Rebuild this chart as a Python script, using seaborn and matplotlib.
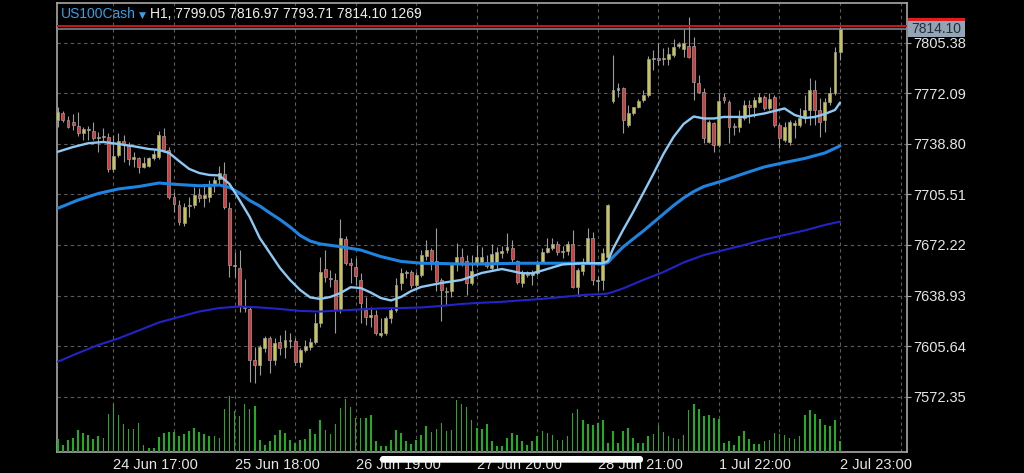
import matplotlib
matplotlib.use("Agg")
import matplotlib.pyplot as plt
import matplotlib.transforms as mtransforms
from matplotlib.patches import Rectangle, FancyBboxPatch
import numpy as np
import seaborn as sns

# ---------------------------------------------------------------- data
symbol = "US100Cash"
timeframe = "H1"

opens = [
    7754.5, 7759.1, 7754.5, 7753.2, 7750.6, 7745.9, 7747.9, 7747.3, 7742.7, 7743.3,
    7743.3, 7722.3, 7731.5, 7740.7, 7738.0, 7728.8, 7729.5, 7723.6, 7724.2, 7729.5,
    7730.2, 7744.0, 7734.8, 7703.8, 7698.6, 7686.7, 7697.9, 7698.6, 7705.1, 7703.2,
    7703.8, 7711.7, 7715.7, 7719.0, 7696.6, 7658.4, 7657.1, 7631.4, 7630.1, 7596.5,
    7593.2, 7604.4, 7611.0, 7596.5, 7608.4, 7605.1, 7609.0, 7609.0, 7595.2, 7603.1,
    7605.1, 7608.4, 7620.9, 7656.4, 7650.5, 7649.2, 7629.4, 7676.2, 7660.4, 7657.7,
    7649.2, 7629.4, 7624.8, 7626.1, 7613.0, 7614.3, 7624.2, 7629.4, 7647.2, 7653.8,
    7654.4, 7645.9, 7652.5, 7665.0, 7668.9, 7661.7, 7649.2, 7641.9, 7641.9, 7660.4,
    7664.3, 7661.7, 7647.2, 7660.4, 7661.0, 7661.0, 7657.1, 7659.7, 7667.0, 7668.9,
    7670.2, 7661.7, 7647.2, 7653.1, 7652.5, 7653.8, 7661.0, 7667.6, 7670.2, 7672.9,
    7667.6, 7668.3, 7672.9, 7644.6, 7655.1, 7661.0, 7676.8, 7648.5, 7649.2, 7664.3,
    7767.0, 7774.3, 7775.6, 7751.2, 7759.1, 7763.1, 7767.7, 7771.0, 7794.7, 7795.3,
    7794.7, 7794.7, 7797.3, 7803.2, 7801.2, 7803.2, 7803.2, 7778.9, 7772.9, 7740.0,
    7752.5, 7738.0, 7769.6, 7766.4, 7750.6, 7749.9, 7755.8, 7764.4, 7763.1, 7766.4,
    7769.6, 7762.4, 7769.6, 7751.2, 7741.3, 7740.0, 7751.2, 7751.2, 7756.5, 7761.1,
    7774.3, 7761.1, 7754.5, 7766.4, 7772.3, 7799.05,
]
highs = [
    7763.1, 7760.4, 7757.1, 7758.5, 7759.8, 7749.9, 7750.6, 7753.2, 7746.6, 7749.2,
    7745.9, 7744.6, 7745.9, 7744.6, 7740.0, 7733.4, 7730.2, 7730.2, 7730.2, 7734.8,
    7747.3, 7749.2, 7736.7, 7707.1, 7701.8, 7699.9, 7703.8, 7710.4, 7709.7, 7711.7,
    7715.0, 7717.0, 7724.2, 7726.9, 7700.5, 7667.6, 7668.9, 7649.8, 7631.4, 7605.1,
    7606.4, 7612.3, 7612.3, 7611.0, 7613.0, 7616.3, 7614.3, 7611.0, 7604.4, 7609.7,
    7611.0, 7627.5, 7664.3, 7668.9, 7655.8, 7653.8, 7689.3, 7678.1, 7663.7, 7663.7,
    7653.8, 7638.0, 7631.4, 7629.4, 7624.2, 7625.5, 7631.4, 7650.5, 7657.1, 7655.8,
    7655.8, 7654.4, 7668.9, 7675.5, 7670.2, 7683.4, 7650.5, 7644.6, 7660.4, 7673.5,
    7670.2, 7665.6, 7665.6, 7672.2, 7670.9, 7665.6, 7672.9, 7670.9, 7671.6, 7680.1,
    7675.5, 7662.3, 7655.8, 7655.1, 7655.8, 7662.3, 7670.2, 7676.8, 7676.8, 7674.9,
    7671.6, 7674.9, 7682.1, 7657.1, 7663.7, 7683.4, 7680.8, 7651.8, 7670.2, 7699.2,
    7797.3, 7778.9, 7776.2, 7764.4, 7763.1, 7768.3, 7774.3, 7796.6, 7800.6, 7805.2,
    7801.9, 7802.6, 7807.8, 7805.9, 7814.4, 7822.3, 7809.1, 7784.1, 7775.6, 7754.5,
    7753.2, 7772.3, 7772.3, 7767.7, 7752.5, 7761.1, 7767.7, 7767.7, 7769.6, 7772.3,
    7771.0, 7772.3, 7771.0, 7752.5, 7753.2, 7754.5, 7754.5, 7762.4, 7771.0, 7782.2,
    7780.8, 7769.0, 7769.0, 7776.2, 7802.6, 7816.97,
]
lows = [
    7749.9, 7753.2, 7749.2, 7747.9, 7744.0, 7741.3, 7741.3, 7741.3, 7733.4, 7740.7,
    7720.3, 7720.3, 7730.2, 7726.9, 7724.9, 7723.6, 7719.6, 7722.9, 7723.6, 7728.2,
    7728.8, 7733.4, 7702.5, 7693.9, 7685.4, 7684.7, 7690.7, 7696.6, 7700.5, 7697.2,
    7700.5, 7707.1, 7711.7, 7695.9, 7651.2, 7651.2, 7628.1, 7628.1, 7582.0, 7581.4,
    7586.6, 7601.8, 7588.0, 7593.2, 7599.8, 7597.8, 7604.4, 7593.2, 7591.9, 7601.8,
    7603.1, 7607.0, 7618.2, 7647.9, 7644.6, 7614.3, 7627.5, 7659.1, 7647.2, 7645.9,
    7620.9, 7619.6, 7618.2, 7613.0, 7611.7, 7613.0, 7620.9, 7628.1, 7642.6, 7650.5,
    7643.9, 7644.6, 7651.2, 7662.3, 7655.8, 7641.9, 7622.2, 7632.7, 7638.0, 7655.1,
    7658.4, 7639.3, 7645.9, 7657.7, 7659.7, 7657.1, 7655.1, 7655.8, 7663.7, 7667.0,
    7660.4, 7646.5, 7644.6, 7651.2, 7645.9, 7652.5, 7660.4, 7667.0, 7668.9, 7665.6,
    7663.7, 7665.6, 7643.9, 7639.3, 7652.5, 7660.4, 7645.9, 7642.6, 7642.6, 7663.7,
    7765.7, 7769.6, 7745.9, 7749.9, 7757.8, 7762.4, 7766.4, 7769.6, 7787.4, 7790.7,
    7790.7, 7790.7, 7796.0, 7801.9, 7796.0, 7795.3, 7767.7, 7772.3, 7739.4, 7739.4,
    7733.4, 7736.7, 7765.7, 7739.4, 7744.6, 7746.6, 7754.5, 7752.5, 7756.5, 7765.7,
    7761.1, 7761.1, 7749.9, 7736.1, 7740.0, 7738.0, 7742.7, 7749.9, 7752.5, 7751.2,
    7751.2, 7743.3, 7746.6, 7764.4, 7771.0, 7793.71,
]
closes = [
    7759.8, 7754.5, 7749.9, 7751.2, 7745.9, 7748.6, 7748.6, 7742.7, 7743.3, 7744.0,
    7722.3, 7730.8, 7740.7, 7738.0, 7728.8, 7730.2, 7723.6, 7726.2, 7729.5, 7732.1,
    7744.6, 7734.8, 7703.8, 7699.2, 7687.4, 7697.2, 7698.6, 7705.1, 7703.2, 7705.1,
    7710.4, 7715.0, 7719.6, 7697.2, 7659.1, 7659.1, 7632.1, 7630.7, 7596.5, 7593.2,
    7605.1, 7611.0, 7596.5, 7607.7, 7604.4, 7609.7, 7609.7, 7595.2, 7603.1, 7605.7,
    7608.4, 7620.9, 7654.4, 7651.2, 7649.8, 7629.4, 7676.8, 7660.4, 7659.1, 7651.8,
    7634.0, 7624.8, 7626.1, 7614.3, 7614.3, 7624.2, 7629.4, 7645.9, 7653.8, 7654.4,
    7645.9, 7652.5, 7665.6, 7668.9, 7661.7, 7648.5, 7642.6, 7641.3, 7659.1, 7664.3,
    7661.0, 7647.2, 7655.1, 7664.3, 7664.3, 7658.4, 7666.3, 7667.6, 7668.3, 7670.9,
    7663.0, 7647.9, 7653.8, 7652.5, 7653.8, 7661.0, 7667.6, 7670.2, 7672.9, 7667.6,
    7668.3, 7672.9, 7644.6, 7655.8, 7661.0, 7676.8, 7649.2, 7649.2, 7667.0, 7698.6,
    7774.3, 7775.6, 7754.5, 7759.1, 7763.1, 7767.0, 7771.0, 7794.7, 7795.3, 7794.0,
    7795.3, 7798.0, 7802.6, 7804.5, 7805.2, 7796.0, 7779.5, 7772.9, 7742.7, 7753.2,
    7738.0, 7767.0, 7767.7, 7749.9, 7749.9, 7755.8, 7764.4, 7763.1, 7767.7, 7769.6,
    7762.4, 7768.3, 7751.2, 7742.7, 7749.9, 7753.2, 7752.5, 7755.8, 7761.1, 7774.3,
    7761.1, 7753.2, 7766.4, 7772.3, 7799.3, 7814.10,
]
volumes = [
    1500, 790, 1390, 1710, 2580, 2300, 1980, 1590, 1860, 1710,
    4560, 5670, 4360, 3370, 2780, 2780, 3490, 790, 480, 480,
    1780, 2300, 2380, 2380, 1860, 2180, 2460, 2900, 2380, 2180,
    1860, 1860, 1710, 5160, 6620, 4840, 4240, 5750, 5160, 5430,
    1390, 790, 1270, 1980, 2580, 2300, 1390, 1110, 1390, 1510,
    2780, 2180, 3770, 2580, 2180, 3370, 5270, 6350, 5350, 4080,
    4080, 4080, 4360, 1270, 670, 670, 1390, 2580, 2300, 1270,
    990, 1390, 1980, 3050, 2380, 2780, 3490, 2500, 2580, 6150,
    5750, 5350, 3770, 2860, 2780, 3370, 1270, 670, 670, 1710,
    2300, 1980, 1270, 790, 1270, 1860, 2460, 2300, 1980, 1390,
    1390, 1860, 4680, 5160, 3770, 3370, 3170, 3490, 3770, 1110,
    2460, 1110, 2460, 2900, 1710, 1070, 1110, 1860, 2180, 3170,
    2380, 1860, 1710, 1590, 1980, 4960, 5750, 5160, 4240, 4360,
    4080, 3970, 1070, 1270, 790, 1860, 2460, 1590, 990, 990,
    1270, 1390, 2300, 2100, 1980, 1670, 1590, 1860, 4360, 4960,
    4560, 3970, 3170, 3050, 3770, 1269,
]

# fast moving average
fast_bars = [0, 3, 6, 9, 12, 15, 18, 20, 22, 24, 26, 28, 30, 32, 34, 36, 38, 40,
             42, 44, 46, 48, 50, 52, 54, 56, 58, 60, 62, 64, 66, 68, 70, 72, 76,
             80, 84, 88, 92, 94, 96, 100, 104, 108, 109, 110, 112, 114, 116, 118,
             120, 122, 124, 126, 128, 130, 132, 136, 140, 144, 146, 148, 150, 152,
             154, 155]
ma_fast = [7733.6, 7736.7, 7739.2, 7740.0, 7738.7, 7737.2, 7735.4, 7734.8, 7732.9,
           7727.5, 7722.3, 7719.6, 7718.3, 7718.0, 7712.4, 7701.8, 7690.7, 7676.8,
           7667.0, 7657.1, 7649.2, 7642.6, 7637.7, 7636.7, 7638.0, 7640.6, 7644.4,
           7643.9, 7640.9, 7637.3, 7635.7, 7638.0, 7641.9, 7644.6, 7647.2, 7649.2,
           7653.8, 7656.4, 7653.6, 7653.6, 7655.4, 7659.4, 7660.2, 7660.2, 7661.7,
           7669.6, 7682.1, 7693.9, 7706.4, 7719.0, 7732.1, 7743.3, 7751.9, 7756.8,
           7755.5, 7755.5, 7756.5, 7756.5, 7758.8, 7762.1, 7757.8, 7755.8, 7756.5,
           7758.5, 7761.1, 7765.9]

# medium moving average
mid_bars = [0, 4, 8, 12, 16, 20, 24, 28, 32, 34, 36, 38, 40, 42, 44, 46, 48, 50,
            52, 56, 60, 64, 68, 72, 76, 80, 84, 88, 92, 96, 100, 104, 108, 109,
            110, 112, 114, 116, 118, 120, 122, 124, 126, 128, 132, 136, 140, 144,
            148, 152, 155]
ma_mid = [7696.4, 7701.8, 7706.1, 7709.1, 7710.7, 7713.0, 7712.0, 7711.2, 7711.7,
          7710.1, 7706.4, 7701.5, 7697.9, 7693.3, 7689.0, 7684.1, 7678.5, 7674.8,
          7672.9, 7671.1, 7668.9, 7664.6, 7661.4, 7660.2, 7660.0, 7659.7, 7659.7,
          7660.0, 7660.2, 7660.2, 7660.2, 7660.2, 7659.7, 7660.7, 7664.3, 7670.9,
          7676.2, 7681.4, 7687.0, 7692.6, 7698.2, 7703.2, 7707.4, 7710.7, 7714.7,
          7719.3, 7723.6, 7726.5, 7729.2, 7732.8, 7737.4]

# slow moving average
slow_bars = [0, 4, 8, 12, 16, 20, 24, 28, 32, 36, 40, 44, 48, 52, 56, 60, 64, 68,
             72, 76, 80, 84, 88, 92, 96, 100, 104, 108, 109, 110, 112, 116, 120,
             124, 128, 132, 136, 140, 144, 148, 152, 155]
ma_slow = [7595.4, 7601.1, 7606.4, 7610.7, 7615.9, 7621.2, 7624.8, 7628.4, 7630.7,
           7631.7, 7631.1, 7630.1, 7628.8, 7628.4, 7629.1, 7629.8, 7630.5, 7630.7,
           7631.1, 7632.1, 7633.4, 7634.2, 7634.8, 7635.8, 7636.7, 7638.0, 7639.3,
           7640.0, 7640.3, 7641.3, 7643.6, 7649.2, 7654.4, 7660.7, 7665.6, 7668.9,
           7672.2, 7675.8, 7678.8, 7681.8, 7685.4, 7687.6]

ask_price = 7816.2
price_ticks = [7805.38, 7772.09, 7738.80, 7705.51, 7672.22, 7638.93, 7605.64, 7572.35]
time_labels = ["24 Jun 17:00", "25 Jun 18:00", "26 Jun 19:00", "27 Jun 20:00",
               "28 Jun 21:00", "1 Jul 22:00", "2 Jul 23:00"]
time_label_bars = [11, 35, 59, 83, 107, 131, 155]
grid_bars = [23, 47, 71, 95, 119, 143, 167]

# ---------------------------------------------------------------- style
sns.set_theme(style="dark")
plt.rcParams.update({
    "figure.facecolor": "black",
    "axes.facecolor": "black",
    "savefig.facecolor": "black",
    "axes.edgecolor": "#a8a8a8",
    "text.color": "#e8e8e8",
    "axes.axisbelow": True,
})
plt.rcParams["font.family"] = ["Liberation Sans", "DejaVu Sans"]

BULL = "#c8c64c"
BEAR = "#d83a3a"
EDGE = "#9c9c9c"
VOL = "#1fae1f"
GRID = "#5c5c5c"
TXT = "#e6e6e6"

W, H = 1024, 473
fig = plt.figure(figsize=(W / 100, H / 100), dpi=100)
ax = fig.add_axes([57 / W, 1 - 452 / H, 850 / W, 449 / H])
axv = ax.twinx()

bars = np.arange(len(closes))
o = np.array(opens)
c = np.array(closes)
hi = np.array(highs)
lo = np.array(lows)
up = c >= o

# volume histogram along the bottom of the price pane
sns.barplot(x=bars, y=volumes, native_scale=True, color=VOL, saturation=1,
            width=0.32, linewidth=0, errorbar=None, ax=axv)

# candles
ax.vlines(bars, lo, hi, color=EDGE, linewidth=0.8, zorder=2)
body_low = np.minimum(o, c)
body_h = np.maximum(np.abs(c - o), 0.7)
ax.bar(bars, body_h, bottom=body_low, width=0.58,
       color=np.where(up, BULL, BEAR), edgecolor=EDGE, linewidth=0.5, zorder=3)

# moving averages
for xs, vals, col, lw in [(slow_bars, ma_slow, "#2323c8", 1.5),
                          (mid_bars, ma_mid, "#1e84e0", 2.2),
                          (fast_bars, ma_fast, "#8dc9f4", 1.7)]:
    sns.lineplot(x=xs, y=vals, color=col, linewidth=lw, ax=ax,
                 errorbar=None, legend=False, zorder=6)

# bid / ask lines
ax.axhline(ask_price, color="#c41616", linewidth=1.5, zorder=7)
ax.axhline(closes[-1], color="#7f8e9e", linewidth=1.1, zorder=7)

ymin, ymax = 7535.94, 7831.51
ax.set_ylim(ymin, ymax)
ax.set_xlim(-0.18, 168.27)
axv.set_xlim(-0.18, 168.27)
axv.set_ylim(0, 53400)
axv.yaxis.set_visible(False)
for s in axv.spines.values():
    s.set_visible(False)

# axes, ticks, grid
ax.yaxis.tick_right()
ax.set_yticks(price_ticks)
ax.set_yticklabels([f"{v:.2f}" for v in price_ticks])
ax.set_xticks(time_label_bars)
ax.set_xticklabels(time_labels, ha="left")
ax.set_xticks(grid_bars, minor=True)
ax.set_xlabel("")
ax.set_ylabel("")
ax.grid(True, which="both", axis="both", color=GRID, linestyle=(0, (3, 3)),
        linewidth=0.8)
ax.tick_params(axis="y", which="both", direction="out", length=3, width=0.8,
               color="#a8a8a8", labelcolor=TXT, labelsize=10.5, pad=1.5,
               right=True, left=False, labelright=True, labelleft=False)
ax.tick_params(axis="x", which="both", direction="out", length=3, width=0.8,
               color="#a8a8a8", labelcolor=TXT, labelsize=10.5, pad=1.0)
for s in ax.spines.values():
    s.set_color("#a8a8a8")
    s.set_linewidth(1.2)

# header
fig.text(61 / W, 1 - 18.3 / H, symbol, color="#3a9fe6", fontsize=10,
         ha="left", va="baseline")
fig.text(138.5 / W, 1 - 17.5 / H, "\u25bc", color="#3a9fe6", fontsize=6.5,
         ha="left", va="baseline", family=["DejaVu Sans"])
fig.text(150 / W, 1 - 18.3 / H,
         f"{timeframe}, {opens[-1]:.2f} {highs[-1]:.2f} {lows[-1]:.2f} "
         f"{closes[-1]:.2f} {volumes[-1]}",
         color="#f0f0f0", fontsize=10, ha="left", va="baseline")

# price tags on the right scale
ppu = 449 / (ymax - ymin)
box_h = 16 / ppu
tag = mtransforms.blended_transform_factory(fig.transFigure, ax.transData)
fig.add_artist(Rectangle((908 / W, ask_price - box_h / 2), 57 / W, box_h,
                         transform=tag, facecolor="#e01c1c", edgecolor="none",
                         clip_on=False, zorder=8))
fig.add_artist(Rectangle((908 / W, closes[-1] - box_h / 2), 57 / W, box_h,
                         transform=tag, facecolor="#93a4b6", edgecolor="none",
                         clip_on=False, zorder=9))
fig.text(936.5 / W, closes[-1], f"{closes[-1]:.2f}", transform=tag,
         color="#262c33", fontsize=10, ha="center", va="center", zorder=10)

# scroll indicator
fig.add_artist(FancyBboxPatch((380, H - 462.7), 263, 6.7,
                              boxstyle="round,pad=0,rounding_size=3.3",
                              transform=mtransforms.IdentityTransform(),
                              facecolor="white", edgecolor="none", zorder=20))

fig.savefig("out.png", dpi=100, facecolor="black")
